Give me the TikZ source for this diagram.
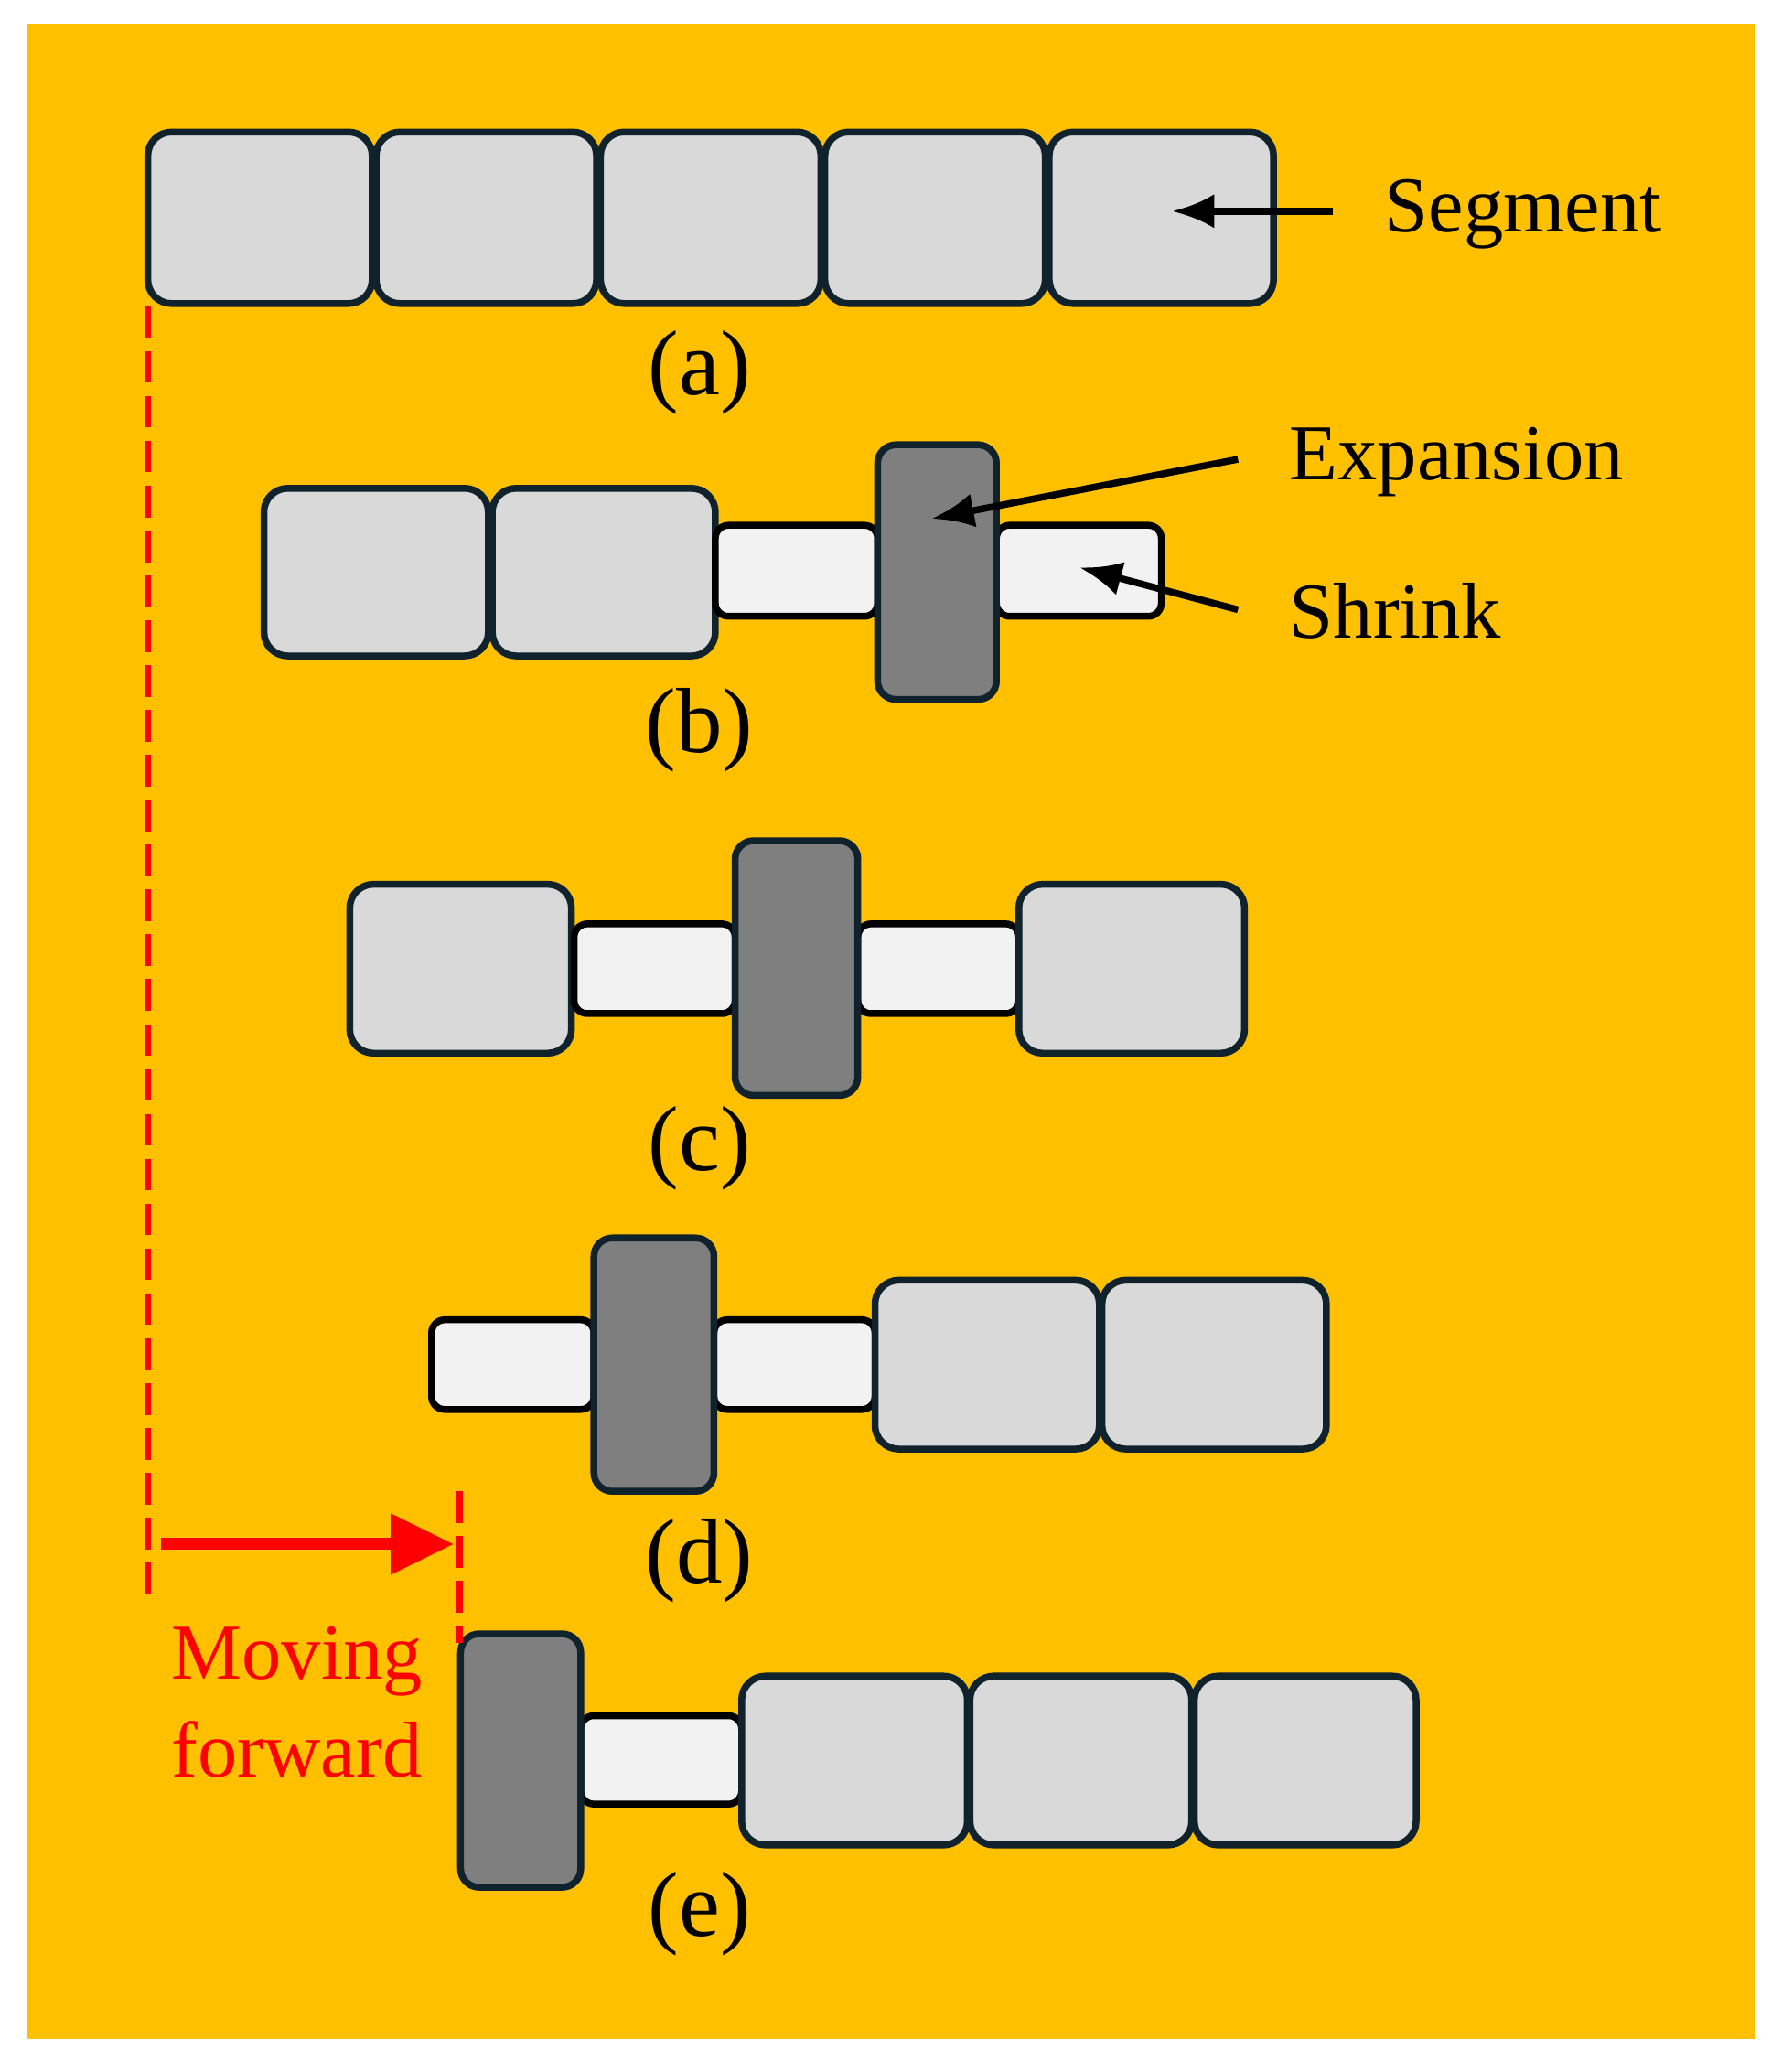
\documentclass[tikz,border=0pt]{standalone}
\usepackage{fontspec}
\setmainfont{Liberation Serif}
\usetikzlibrary{arrows.meta}
\definecolor{bg}{HTML}{FFC000}
\definecolor{edge}{HTML}{10222C}
\definecolor{seg}{HTML}{D9D9D9}
\definecolor{shr}{HTML}{F2F2F2}
\definecolor{exp}{HTML}{7F7F7F}
\newcommand\bx[6]{\node[#6, minimum width={(#4-#2)*0.5pt}, minimum height={(#5-#3)*0.5pt}] (#1) at ({(#2+#4)/2},{(#3+#5)/2}) {};}
\begin{document}
\begin{tikzpicture}[x=0.5pt,y=-0.5pt,
  base/.style={draw=edge,line width=2.6pt,inner sep=0pt,outer sep=0pt},
  sg/.style={base,fill=seg,rounded corners=9pt},
  sh/.style={base,fill=shr,rounded corners=5pt,draw=black},
  ex/.style={base,fill=exp,rounded corners=7pt},
  lab/.style={font=\fontsize{35}{40}\selectfont},
  txt/.style={font=\fontsize{30}{36}\selectfont,anchor=west},
  arr/.style={line width=2.6pt,-{Latex[length=16pt,width=13pt]}},
  reddash/.style={red,line width=2.6pt,dash pattern=on 12pt off 5pt}]
\useasboundingbox (0,0) rectangle (1350,1570);
\fill[white] (0,0) rectangle (1350,1570);
\fill[bg] (20,18) rectangle (1330,1545);
% (a)
\bx{a1}{112}{100}{282}{230}{sg}
\bx{a2}{285}{100}{452}{230}{sg}
\bx{a3}{455}{100}{622}{230}{sg}
\bx{a4}{625}{100}{792}{230}{sg}
\bx{a5}{795}{100}{965}{230}{sg}
\node[lab] (la) at (530,282) {(a)};
\node[txt] (tseg) at (1042,162) {Segment};
\coordinate (sA) at (1010,160);
\coordinate (sB) at (888,160);
\draw[arr] (sA) -- (sB);
% (b)
\bx{b1}{200}{370}{370}{497}{sg}
\bx{b2}{373}{370}{542}{497}{sg}
\bx{b3}{542}{398}{665}{467}{sh}
\bx{b5}{755}{398}{880}{467}{sh}
\bx{b4}{665}{337}{755}{530}{ex}
\node[lab] (lb) at (530,553) {(b)};
\node[txt] (texp) at (970,350) {Expansion};
\node[txt] (tshr) at (970,463) {Shrink};
\coordinate (eA) at (938,348);
\coordinate (eB) at (706,393);
\coordinate (rA) at (938,462);
\coordinate (rB) at (818,430);
\draw[arr] (eA) -- (eB);
\draw[arr] (rA) -- (rB);
% (c)
\bx{c1}{265}{670}{433}{798}{sg}
\bx{c2}{435}{700}{557}{768}{sh}
\bx{c4}{650}{700}{772}{768}{sh}
\bx{c5}{772}{670}{943}{798}{sg}
\bx{c3}{557}{637}{650}{830}{ex}
\node[lab] (lc) at (530,870) {(c)};
% (d)
\bx{d1}{327}{1000}{450}{1068}{sh}
\bx{d3}{541}{1000}{663}{1068}{sh}
\bx{d2}{450}{938}{541}{1130}{ex}
\bx{d4}{663}{970}{833}{1098}{sg}
\bx{d5}{835}{970}{1005}{1098}{sg}
\node[lab] (ld) at (530,1183) {(d)};
% (e)
\bx{e2}{440}{1300}{562}{1367}{sh}
\bx{e1}{349}{1238}{440}{1430}{ex}
\bx{e3}{562}{1270}{733}{1398}{sg}
\bx{e4}{735}{1270}{903}{1398}{sg}
\bx{e5}{905}{1270}{1073}{1398}{sg}
\node[lab] (le) at (530,1450) {(e)};
% moving forward
\coordinate (m1) at (112,232);
\coordinate (m2) at (112,1212);
\coordinate (n1) at (348,1130);
\coordinate (n2) at (348,1245);
\draw[reddash] (m1) -- (m2);
\draw[reddash] (n1) -- (n2);
\coordinate (f1) at (122,1170);
\coordinate (f2) at (344,1170);
\draw[red,line width=4.5pt,-{Triangle[length=24pt,width=22pt]}] (f1) -- (f2);
\node[red,font=\fontsize{30}{37}\selectfont,align=left] (tmov) at (225,1290) {Moving\\forward};
\end{tikzpicture}
\end{document}
